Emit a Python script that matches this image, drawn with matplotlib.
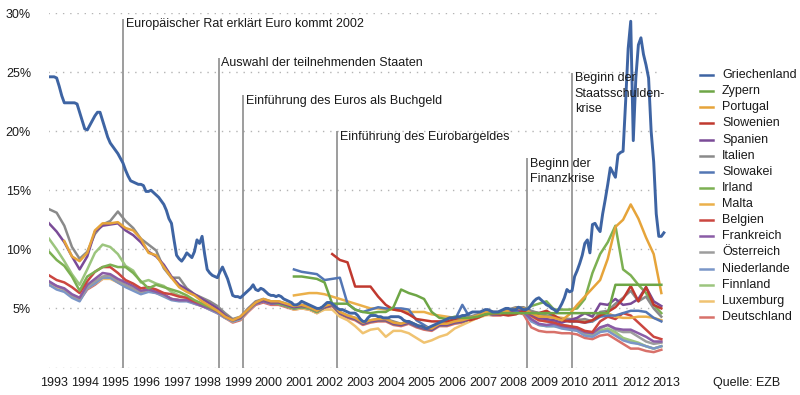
import numpy as np
import matplotlib
matplotlib.use("Agg")
import matplotlib.pyplot as plt
from matplotlib.lines import Line2D

plt.rcParams['font.family'] = ['Liberation Sans', 'DejaVu Sans']

# Rendite 10-jaehriger Staatsanleihen in %
# Griechenland: monatlich ab Jan 1993
griechenland = [
    24.6, 24.6, 24.6, 24.5, 23.8, 23.0, 22.4, 22.4, 22.4, 22.4,
    22.4, 22.3, 21.6, 20.9, 20.2, 20.1, 20.5, 20.9, 21.3, 21.6,
    21.6, 20.9, 20.2, 19.5, 19.0, 18.7, 18.4, 18.1, 17.7, 17.3,
    16.7, 16.2, 15.8, 15.7, 15.6, 15.5, 15.5, 15.4, 14.9, 14.9,
    15.0, 14.8, 14.6, 14.4, 14.1, 13.8, 13.3, 12.6, 12.2, 10.8,
    9.5, 9.2, 9.0, 9.3, 9.7, 9.5, 9.3, 9.8, 10.8, 10.5,
    11.1, 9.6, 8.3, 8.0, 7.8, 7.7, 7.6, 8.1, 8.5, 8.0,
    7.5, 6.8, 6.1, 6.0, 6.0, 5.9, 6.1, 6.3, 6.5, 6.7,
    7.0, 6.6, 6.5, 6.7, 6.6, 6.4, 6.2, 6.1, 6.1, 6.0,
    6.1, 6.0, 5.8, 5.7, 5.6, 5.5, 5.3, 5.3, 5.4, 5.6,
    5.5, 5.4, 5.3, 5.2, 5.1, 5.0, 5.0, 5.1, 5.3, 5.5,
    5.5, 5.4, 5.2, 5.0, 4.9, 4.9, 4.8, 4.7, 4.6, 4.6,
    4.6, 4.4, 4.1, 3.9, 3.9, 4.2, 4.4, 4.4, 4.4, 4.3,
    4.3, 4.2, 4.2, 4.2, 4.3, 4.3, 4.3, 4.3, 4.2, 4.0,
    3.9, 3.9, 3.8, 3.7, 3.6, 3.5, 3.5, 3.4, 3.3, 3.4,
    3.5, 3.6, 3.7, 3.8, 3.9, 4.0, 4.1, 4.2, 4.2, 4.2,
    4.3, 4.3, 4.4, 4.4, 4.5, 4.6, 4.7, 4.7, 4.7, 4.7,
    4.8, 4.9, 4.9, 4.8, 4.7, 4.7, 4.7, 4.8, 4.9, 5.0,
    5.0, 4.9, 4.9, 4.9, 5.1, 5.0, 4.9, 4.9, 5.0, 5.3,
    5.6, 5.8, 5.9, 5.7, 5.5, 5.3, 5.2, 5.0, 4.9, 4.7,
    5.0, 5.4, 5.9, 6.6, 6.4, 6.5, 7.7, 8.2, 8.8, 9.5,
    10.5, 10.8, 9.7, 12.1, 12.2, 11.8, 11.5, 13.0, 14.2, 15.5,
    16.9, 16.5, 16.1, 18.0, 18.2, 18.3, 22.5, 27.0, 29.3, 19.2,
    24.5, 27.3, 27.9, 26.5, 25.6, 24.5, 20.0, 17.4, 13.0, 11.1,
    11.1, 11.4,
]

# alle anderen: quartalsweise ab Jan 1993 (eine Zeile = ein Jahr)
zypern = [None] * 32 + [
    7.7, 7.7, 7.6, 7.5,
    7.2, 5.4, 5.4, 5.4,
    4.9, 4.7, 4.6, 4.7,
    4.7, 5.1, 6.6, 6.3,
    6.1, 5.8, 4.7, 4.2,
    4.1, 4.3, 4.2, 4.2,
    4.3, 4.5, 4.6, 4.6,
    4.6, 4.6, 4.6, 4.6,
    4.6, 4.6, 4.6, 4.6,
    4.6, 4.6, 4.6, 4.6,
    4.6, 4.6, 7.0, 7.0,
    7.0, 7.0, 7.0, 7.0,
    7.0,
]
portugal = [
    None, None, 10.7, 9.4,
    9.0, 9.7, 11.6, 12.2,
    12.2, 12.3, 11.8, 11.6,
    10.9, 9.7, 9.5, 8.5,
    7.6, 6.8, 6.4, 6.1,
    5.6, 5.2, 4.8, 4.3,
    4.0, 4.3, 4.9, 5.5,
    5.8, 5.6, 5.6, 5.4,
    5.2, 5.3, 5.1, 4.8,
    5.2, 5.4, 4.7, 4.4,
    4.2, 3.8, 4.0, 4.1,
    4.1, 3.8, 3.7, 3.9,
    3.6, 3.4, 3.3, 3.7,
    3.7, 3.9, 4.0, 4.2,
    4.4, 4.7, 4.6, 4.6,
    4.8, 5.0, 5.0, 4.6,
    4.3, 4.3, 4.2, 4.0,
    4.5, 5.3, 6.0, 6.7,
    7.4, 9.2, 11.9, 12.5,
    13.8, 12.6, 11.0, 9.6,
    6.3,
]
slowenien = [None] * 37 + [
    9.6, 9.1, 8.9,
    6.85, 6.85, 6.85, 6.0,
    5.3, 4.9, 4.8, 4.5,
    4.1, 4.0, 3.9, 3.9,
    3.9, 4.1, 4.3, 4.0,
    4.2, 4.5, 4.6, 4.5,
    4.4, 4.5, 4.8, 4.6,
    4.6, 4.8, 4.4, 4.0,
    3.9, 3.9, 3.8, 4.0,
    4.4, 4.7, 5.1, 5.8,
    6.9, 5.6, 6.8, 5.3,
    5.0,
]
spanien = [
    12.2, 11.5, 10.6, 9.4,
    8.3, 9.4, 11.5, 12.0,
    12.1, 12.2, 11.6, 11.2,
    10.6, 9.8, 9.4, 8.7,
    7.7, 7.0, 6.6, 6.2,
    5.8, 5.4, 5.0, 4.4,
    4.0, 4.2, 4.9, 5.5,
    5.7, 5.5, 5.5, 5.3,
    5.1, 5.2, 5.1, 4.8,
    5.1, 5.3, 4.6, 4.3,
    4.1, 3.7, 3.9, 4.0,
    4.0, 3.7, 3.6, 3.8,
    3.5, 3.3, 3.2, 3.6,
    3.6, 3.8, 3.9, 4.1,
    4.3, 4.6, 4.5, 4.5,
    4.7, 4.9, 4.9, 4.5,
    4.2, 4.1, 4.0, 3.8,
    4.0, 4.2, 4.6, 4.3,
    5.4, 5.3, 5.8, 5.3,
    5.4, 5.8, 6.8, 5.6,
    5.2,
]
italien = [
    13.4, 13.1, 12.0, 10.2,
    9.2, 9.8, 11.3, 12.1,
    12.4, 13.2, 12.4, 11.8,
    10.9, 10.4, 9.9, 8.4,
    7.6, 7.6, 6.7, 6.2,
    5.9, 5.6, 5.2, 4.6,
    4.1, 4.3, 5.0, 5.6,
    5.8, 5.6, 5.6, 5.4,
    5.2, 5.3, 5.2, 4.9,
    5.2, 5.4, 4.7, 4.4,
    4.2, 3.8, 4.0, 4.1,
    4.1, 3.9, 3.7, 3.9,
    3.6, 3.4, 3.3, 3.7,
    3.8, 4.0, 4.1, 4.3,
    4.5, 4.8, 4.7, 4.7,
    4.9, 5.1, 5.1, 4.8,
    4.6, 4.4, 4.2, 4.1,
    4.1, 4.0, 4.1, 3.9,
    4.7, 4.8, 5.4, 5.9,
    6.5, 5.6, 6.0, 5.0,
    4.3,
]
slowakei = [None] * 32 + [
    8.3, 8.1, 8.0, 7.9,
    7.4, 7.5, 7.6, 5.4,
    4.9, 4.7, 4.9, 5.1,
    5.0, 5.0, 5.0, 4.9,
    4.0, 3.6, 3.2, 3.6,
    3.8, 4.0, 5.3, 4.2,
    4.3, 4.5, 4.6, 4.6,
    4.6, 4.7, 4.9, 4.7,
    4.6, 4.7, 4.3, 4.0,
    3.9, 3.9, 3.8, 3.9,
    4.3, 4.4, 4.4, 4.6,
    4.8, 4.8, 4.7, 4.2,
    3.9,
]
irland = [
    9.8, 9.1, 8.6, 7.7,
    6.5, 7.7, 8.1, 8.5,
    8.7, 8.5, 8.5, 8.0,
    7.3, 6.7, 7.0, 6.8,
    6.6, 6.4, 6.1, 5.7,
    5.4, 5.1, 4.8, 4.4,
    4.0, 4.2, 4.9, 5.5,
    5.7, 5.5, 5.4, 5.2,
    5.0, 5.1, 5.0, 4.7,
    5.1, 5.3, 4.6, 4.3,
    4.1, 3.7, 3.9, 4.0,
    4.0, 3.7, 3.6, 3.8,
    3.5, 3.3, 3.2, 3.6,
    3.6, 3.8, 3.9, 4.1,
    4.3, 4.6, 4.5, 4.6,
    4.7, 4.8, 4.8, 5.2,
    5.4, 5.6, 4.9, 4.9,
    4.9, 5.0, 5.8, 8.0,
    9.6, 10.6, 12.0, 8.3,
    7.8, 7.0, 6.3, 5.3,
    4.6,
]
malta = [None] * 32 + [
    6.1, 6.2, 6.3, 6.3,
    6.2, 6.0, 5.8, 5.6,
    5.4, 5.2, 5.0, 5.0,
    4.9, 4.9, 4.8, 4.7,
    4.7, 4.7, 4.5, 4.4,
    4.3, 4.2, 4.3, 4.3,
    4.3, 4.6, 4.7, 4.6,
    4.5, 4.6, 4.8, 4.6,
    4.4, 4.4, 4.3, 4.2,
    4.1, 4.1, 3.9, 4.0,
    4.5, 4.6, 4.3, 4.2,
    4.2, 4.3, 4.3, 4.2,
    4.0,
]
belgien = [
    7.8, 7.4, 7.2, 6.8,
    6.3, 7.3, 8.1, 8.5,
    8.5, 8.0, 7.4, 7.1,
    6.7, 6.8, 6.6, 6.3,
    6.2, 6.0, 5.9, 5.6,
    5.4, 5.1, 4.8, 4.3,
    4.0, 4.2, 4.9, 5.5,
    5.7, 5.5, 5.5, 5.3,
    5.1, 5.2, 5.1, 4.8,
    5.1, 5.3, 4.6, 4.3,
    4.1, 3.7, 3.9, 4.0,
    4.0, 3.7, 3.6, 3.8,
    3.5, 3.3, 3.2, 3.6,
    3.6, 3.8, 3.9, 4.1,
    4.3, 4.6, 4.5, 4.5,
    4.7, 4.9, 4.9, 4.4,
    4.0, 3.9, 3.8, 3.6,
    3.5, 3.4, 3.1, 3.0,
    3.9, 4.3, 4.1, 4.6,
    4.4, 3.8, 3.2, 2.6,
    2.4,
]
frankreich = [
    7.3, 6.9, 6.7, 6.2,
    5.9, 7.0, 7.5, 8.0,
    7.9, 7.5, 7.2, 6.9,
    6.5, 6.6, 6.4, 6.2,
    5.8, 5.7, 5.7, 5.5,
    5.2, 5.0, 4.7, 4.3,
    4.0, 4.2, 4.9, 5.4,
    5.6, 5.4, 5.4, 5.2,
    5.0, 5.1, 5.0, 4.7,
    5.1, 5.3, 4.6, 4.3,
    4.1, 3.7, 3.9, 4.0,
    4.0, 3.7, 3.6, 3.8,
    3.5, 3.3, 3.2, 3.6,
    3.6, 3.8, 3.9, 4.1,
    4.3, 4.6, 4.5, 4.5,
    4.7, 4.8, 4.7, 4.1,
    3.7, 3.6, 3.7, 3.5,
    3.4, 3.3, 3.0, 2.9,
    3.4, 3.6, 3.3, 3.2,
    3.2, 2.9, 2.6, 2.2,
    2.2,
]
oesterreich = [
    7.2, 6.9, 6.6, 6.1,
    5.8, 6.8, 7.3, 7.7,
    7.8, 7.3, 7.0, 6.7,
    6.4, 6.6, 6.4, 6.1,
    5.8, 5.7, 5.7, 5.5,
    5.3, 5.0, 4.7, 4.3,
    4.0, 4.2, 4.9, 5.5,
    5.7, 5.5, 5.5, 5.3,
    5.1, 5.2, 5.1, 4.8,
    5.1, 5.3, 4.6, 4.3,
    4.1, 3.7, 3.9, 4.0,
    4.0, 3.7, 3.6, 3.8,
    3.5, 3.3, 3.2, 3.6,
    3.6, 3.8, 3.9, 4.1,
    4.3, 4.6, 4.5, 4.5,
    4.7, 4.9, 4.9, 4.4,
    4.1, 4.0, 3.8, 3.6,
    3.5, 3.3, 2.9, 2.9,
    3.3, 3.6, 3.2, 3.0,
    3.0, 2.6, 2.2, 2.0,
    2.1,
]
niederlande = [
    7.0, 6.6, 6.4, 5.9,
    5.6, 6.7, 7.1, 7.6,
    7.6, 7.2, 6.8, 6.5,
    6.2, 6.4, 6.3, 6.0,
    5.7, 5.6, 5.6, 5.4,
    5.2, 4.9, 4.6, 4.2,
    3.9, 4.1, 4.8, 5.4,
    5.6, 5.4, 5.4, 5.2,
    5.0, 5.1, 5.0, 4.7,
    5.1, 5.3, 4.6, 4.3,
    4.1, 3.7, 3.9, 4.0,
    4.0, 3.7, 3.6, 3.8,
    3.5, 3.3, 3.2, 3.6,
    3.6, 3.8, 3.9, 4.1,
    4.3, 4.6, 4.5, 4.5,
    4.7, 4.8, 4.7, 3.9,
    3.6, 3.5, 3.5, 3.3,
    3.2, 3.1, 2.7, 2.6,
    3.0, 3.1, 2.7, 2.3,
    2.1, 2.0, 1.8, 1.6,
    1.8,
]
finnland = [
    10.9, 10.0, 9.0, 7.9,
    7.0, 8.3, 9.7, 10.4,
    10.2, 9.6, 8.6, 8.2,
    7.2, 7.4, 7.1, 6.9,
    6.4, 6.1, 5.9, 5.6,
    5.3, 5.0, 4.7, 4.3,
    3.9, 4.1, 4.9, 5.4,
    5.6, 5.4, 5.4, 5.2,
    5.0, 5.1, 5.0, 4.7,
    5.1, 5.3, 4.6, 4.3,
    4.1, 3.7, 3.9, 4.0,
    4.0, 3.7, 3.6, 3.8,
    3.5, 3.3, 3.2, 3.6,
    3.6, 3.8, 3.9, 4.1,
    4.3, 4.6, 4.5, 4.5,
    4.7, 4.8, 4.7, 4.0,
    3.6, 3.5, 3.5, 3.4,
    3.3, 3.2, 2.8, 2.7,
    3.1, 3.3, 3.0, 2.5,
    2.3, 2.1, 1.8, 1.6,
    1.8,
]
luxemburg = [
    7.1, 6.7, 6.5, 6.1,
    5.9, 6.7, 7.1, 7.5,
    7.5, 7.2, 6.9, 6.6,
    6.4, 6.5, 6.4, 6.1,
    5.8, 5.7, 5.7, 5.5,
    5.2, 5.0, 4.6, 4.2,
    3.9, 4.1, 4.8, 5.4,
    5.6, 5.4, 5.4, 5.2,
    4.9, 5.0, 4.9, 4.6,
    4.9, 4.9, 4.3, 4.0,
    3.5, 2.9, 3.2, 3.3,
    2.6, 3.1, 3.1, 2.9,
    2.5, 2.1, 2.3, 2.6,
    2.8, 3.3, 3.6, 3.9,
    4.2, 4.4, 4.5, 4.5,
    4.6, 4.7, 4.6, 4.3,
    4.0, 3.9, 3.8, 3.6,
    3.4, 3.2, 2.8, 2.8,
    3.1, 3.2, 2.8, 2.4,
    2.2, 2.0, 1.8, 1.6,
    1.8,
]
deutschland = [
    7.0, 6.7, 6.5, 6.0,
    5.7, 6.6, 7.0, 7.5,
    7.6, 7.2, 6.9, 6.6,
    6.3, 6.5, 6.3, 6.1,
    5.8, 5.7, 5.7, 5.4,
    5.2, 4.9, 4.6, 4.2,
    3.8, 4.0, 4.7, 5.3,
    5.5, 5.3, 5.3, 5.1,
    4.9, 5.0, 4.9, 4.6,
    5.0, 5.2, 4.5, 4.2,
    4.0, 3.6, 3.8, 3.9,
    3.9, 3.6, 3.5, 3.7,
    3.4, 3.2, 3.1, 3.5,
    3.5, 3.7, 3.8, 4.0,
    4.2, 4.5, 4.4, 4.4,
    4.6, 4.7, 4.5, 3.4,
    3.1, 3.0, 3.0, 2.9,
    2.9, 2.8, 2.5, 2.4,
    2.7, 2.8, 2.4, 2.0,
    1.6, 1.6, 1.4, 1.3,
    1.5,
]

laender = ["Griechenland", "Zypern", "Portugal", "Slowenien", "Spanien", "Italien",
           "Slowakei", "Irland", "Malta", "Belgien", "Frankreich", "Österreich",
           "Niederlande", "Finnland", "Luxemburg", "Deutschland"]
reihen = [griechenland, zypern, portugal, slowenien, spanien, italien,
          slowakei, irland, malta, belgien, frankreich, oesterreich,
          niederlande, finnland, luxemburg, deutschland]
farben = ["#3e64a3", "#6ea646", "#e6a43a", "#c0392f", "#7a4b97", "#8a8a8a",
          "#5376b4", "#7cb052", "#ebb04a", "#cb4640", "#8a5ca6", "#9d9d9d",
          "#7a96c8", "#9cc57e", "#f0c371", "#d8716a"]

ereignisse = [1995.42, 1998.54, 1999.34, 2002.41, 2008.61, 2010.08]
ereignis_texte = ["Europäischer Rat erklärt Euro kommt 2002",
                  "Auswahl der teilnehmenden Staaten",
                  "Einführung des Euros als Buchgeld",
                  "Einführung des Eurobargeldes",
                  "Beginn der\nFinanzkrise",
                  "Beginn der\nStaatsschulden-\nkrise"]
ereignis_hoehe = [29.5, 26.2, 23.05, 20.0, 17.7, 24.95]

jahre = list(range(1993, 2014))

fig = plt.figure(figsize=(8, 3.95), dpi=100)
ax = fig.add_axes([49 / 800, 27.5 / 395, 620 / 800, 354.5 / 395])
ax.set_xlim(1993.0, 2013.25)
ax.set_ylim(0, 30)

# gepunktete Hilfslinien
ax.hlines(range(0, 31, 5), 1992.98, 2012.95, colors="#b4b4b4",
          linestyles=(0, (1, 4.2)), linewidth=1.0, zorder=0)

# Ereignislinien
for x, txt, h in zip(ereignisse, ereignis_texte, ereignis_hoehe):
    ax.vlines(x, 0, h, colors="#8c8c8c", linewidth=1.2, zorder=1)
    ax.text(x + 0.09, h + 0.05, txt, fontsize=9, va="top", ha="left",
            color="#1a1a1a", linespacing=1.38, zorder=5)

# Datenreihen, Griechenland zuletzt (oben)
for name, werte, farbe in reversed(list(zip(laender, reihen, farben))):
    y = np.array(werte, dtype=float)
    if name == "Griechenland":
        t = 1993 + np.arange(len(y)) / 12
        lw = 2.1
    else:
        t = 1993 + np.arange(len(y)) / 4
        lw = 1.8
    ax.plot(t, y, color=farbe, lw=lw, solid_joinstyle="round", zorder=3)

for s in ax.spines.values():
    s.set_visible(False)
ax.set_yticks(range(5, 31, 5))
ax.set_yticklabels([f"{v}%" for v in range(5, 31, 5)])
ax.set_xticks([j + 0.17 for j in jahre])
ax.set_xticklabels([str(j) for j in jahre])
ax.tick_params(axis="both", length=0, labelsize=9, colors="#1a1a1a")
ax.tick_params(axis="y", pad=13)
ax.tick_params(axis="x", pad=7)

# Legende
for i, (name, farbe) in enumerate(zip(laender, farben)):
    yy = (395 - (75 + i * 16.13)) / 395
    fig.add_artist(Line2D([700 / 800, 713 / 800], [yy, yy], color=farbe, lw=1.8))
    fig.text(722 / 800, yy, name, fontsize=9, va="center", ha="left", color="#1a1a1a")

fig.text(780 / 800, (395 - 383) / 395, "Quelle: EZB", fontsize=9, va="center",
         ha="right", color="#1a1a1a")

fig.savefig("out.png", dpi=100)
